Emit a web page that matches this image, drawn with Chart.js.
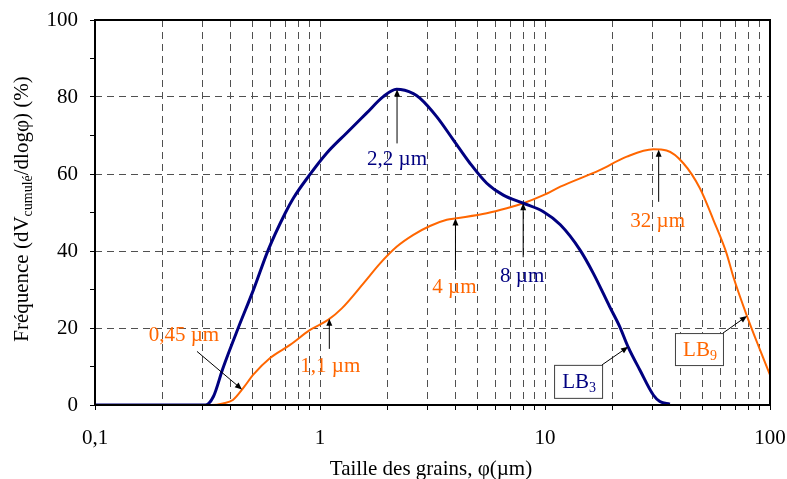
<!DOCTYPE html>
<html lang="fr">
<head>
    <meta charset="UTF-8">
    <title>Distribution granulométrique LB3 / LB9</title>
    <style>
        body {
            margin: 0;
            background-color: #fff;
            overflow: hidden;
        }
        #grainChart {
            display: block;
        }
    </style>
</head>
<body>
    <canvas id="grainChart" width="787" height="479"></canvas>

    <script src="https://cdn.jsdelivr.net/npm/chart.js"></script>
    <script>
        // particle size (µm) and frequency (%) for each sample
        const lb3Size = [0.1, 0.31, 0.336, 0.37, 0.433, 0.506, 0.589, 0.70, 0.761, 0.887, 1.07, 1.31, 1.61, 1.91, 2.19, 2.6, 2.78, 3.3, 3.92, 4.64, 5.51, 6.53, 8.01, 9.84, 11.7, 14.3, 16.4, 19.4, 21.5, 23.4, 26.4, 30.3, 32.4, 35.9];
        const lb3Freq = [0, 0, 2.2, 9.5, 20, 29.9, 40.3, 49.8, 53.7, 59.3, 65.4, 70.6, 75.8, 80.1, 82.0, 80.9, 79.7, 74.9, 68.8, 62.8, 57.6, 54.5, 52.4, 50.2, 46.8, 40.3, 34.2, 25.5, 20.3, 15.1, 9.1, 2.6, 0.9, 0.2];

        const lb9Size = [0.1, 0.33, 0.37, 0.41, 0.46, 0.504, 0.60, 0.736, 0.903, 1.086, 1.25, 1.56, 1.85, 2.19, 2.6, 3.08, 3.66, 4.05, 5.51, 6.76, 8.01, 9.84, 11.7, 17.5, 23.1, 30.3, 34.7, 41.2, 48.8, 56.0, 64.1, 68.7, 79, 90.3, 100];
        const lb9Freq = [0, 0, 0.4, 1.3, 4.7, 7.8, 12.2, 15.6, 19.5, 22.1, 25.1, 31.6, 36.8, 41.1, 44.2, 46.5, 48.1, 48.5, 49.8, 51.1, 52.4, 54.5, 56.7, 61, 64.5, 66.4, 66.1, 62.8, 56.3, 48.1, 39.4, 33.3, 23.1, 14.3, 7.8];

        // sizes pointed out on each curve (µm)
        const lb3Marks = [2.2, 8];
        const lb9Marks = [0.45, 1.1, 4, 32];

        const xTickLabels = ['0,1', '1', '10', '100'];
        const yTickLabels = [0, 20, 40, 60, 80, 100];

        const NAVY = '#000080';
        const ORANGE = '#ff6600';
        const FONT = '"Liberation Serif", "Times New Roman", serif';

        const series = [
            { size: lb3Size, freq: lb3Freq, color: NAVY, name: 'LB', sub: '3' },
            { size: lb9Size, freq: lb9Freq, color: ORANGE, name: 'LB', sub: '9' }
        ];

        // log ticks 0.1, 0.2 ... 0.9, 1, 2 ... 100
        const logTicks = [];
        [0.1, 1, 10].forEach(d => {
            for (let m = 1; m < 10; m++) logTicks.push(Number((m * d).toPrecision(3)));
        });
        logTicks.push(100);

        // frequency at a given size, read along the data (log x)
        function freqAt(s, size) {
            const xs = s.size, ys = s.freq;
            for (let i = 1; i < xs.length; i++) {
                if (size <= xs[i]) {
                    const t = (Math.log10(size) - Math.log10(xs[i - 1])) / (Math.log10(xs[i]) - Math.log10(xs[i - 1]));
                    return ys[i - 1] + t * (ys[i] - ys[i - 1]);
                }
            }
            return ys[ys.length - 1];
        }

        function arrow(ctx, x1, y1, x2, y2) {
            const ang = Math.atan2(y2 - y1, x2 - x1);
            ctx.strokeStyle = '#000';
            ctx.fillStyle = '#000';
            ctx.lineWidth = 1;
            ctx.beginPath();
            ctx.moveTo(x1, y1);
            ctx.lineTo(x2 - 5 * Math.cos(ang), y2 - 5 * Math.sin(ang));
            ctx.stroke();
            ctx.beginPath();
            ctx.moveTo(x2, y2);
            ctx.lineTo(x2 - 7 * Math.cos(ang) + 3 * Math.sin(ang), y2 - 7 * Math.sin(ang) - 3 * Math.cos(ang));
            ctx.lineTo(x2 - 7 * Math.cos(ang) - 3 * Math.sin(ang), y2 - 7 * Math.sin(ang) + 3 * Math.cos(ang));
            ctx.closePath();
            ctx.fill();
        }

        // where each arrow tail and label sits relative to the arrow tip (px)
        const markLayout = {
            '0-2.2': { tail: [0, 54], text: [0, 76] },
            '0-8': { tail: [0, 54], text: [-1, 79] },
            '1-0.45': { tail: [-45, -38], text: [-58, -48] },
            '1-1.1': { tail: [0, 30], text: [1, 53] },
            '1-4': { tail: [0, 52], text: [-1, 75] },
            '1-32': { tail: [0, 52], text: [-1, 77] }
        };
        // name boxes: size the arrow points at, box offset from tip, box size
        const boxLayout = [
            { s: 0, size: 23.4, off: [-74, 18], w: 48, h: 33 },
            { s: 1, size: 79, off: [-72, 17], w: 48, h: 32 }
        ];

        const notesPlugin = {
            id: 'grainNotes',
            afterDraw(chart) {
                const { ctx, chartArea: a, scales: { x, y } } = chart;
                ctx.save();

                // plot frame
                ctx.strokeStyle = '#000';
                ctx.lineWidth = 2;
                ctx.strokeRect(a.left, a.top, a.right - a.left, a.bottom - a.top);

                // arrows with size labels
                ctx.font = '21px ' + FONT;
                ctx.textAlign = 'center';
                ctx.textBaseline = 'alphabetic';
                [lb3Marks, lb9Marks].forEach((marks, si) => {
                    marks.forEach(size => {
                        const lay = markLayout[si + '-' + size];
                        const tx = x.getPixelForValue(size);
                        const ty = y.getPixelForValue(freqAt(series[si], size));
                        arrow(ctx, tx + lay.tail[0], ty + lay.tail[1], tx, ty);
                        ctx.fillStyle = series[si].color;
                        ctx.fillText(String(size).replace('.', ',') + ' µm', tx + lay.text[0], ty + lay.text[1]);
                    });
                });

                // sample name boxes
                boxLayout.forEach(b => {
                    const s = series[b.s];
                    const tx = x.getPixelForValue(b.size);
                    const ty = y.getPixelForValue(freqAt(s, b.size));
                    const bx = tx + b.off[0], by = ty + b.off[1];
                    ctx.fillStyle = '#fff';
                    ctx.fillRect(bx, by, b.w, b.h);
                    ctx.strokeStyle = '#404040';
                    ctx.lineWidth = 1;
                    ctx.strokeRect(bx + 0.5, by + 0.5, b.w, b.h);
                    arrow(ctx, bx + b.w, by, tx, ty);

                    ctx.textAlign = 'left';
                    ctx.font = '21px ' + FONT;
                    const w1 = ctx.measureText(s.name).width;
                    ctx.font = '14px ' + FONT;
                    const w2 = ctx.measureText(s.sub).width;
                    const left = bx + (b.w - w1 - w2) / 2 + 1;
                    ctx.fillStyle = s.color;
                    ctx.font = '21px ' + FONT;
                    ctx.fillText(s.name, left, by + 23);
                    ctx.font = '14px ' + FONT;
                    ctx.fillText(s.sub, left + w1, by + 27);
                });

                // x axis title
                ctx.fillStyle = '#000';
                ctx.textAlign = 'center';
                ctx.font = '21px ' + FONT;
                ctx.fillText('Taille des grains, φ(µm)', 431, 475);

                // y axis title, rotated, with subscript
                const parts = [
                    { t: 'Fréquence (dV', f: 21, dy: 0 },
                    { t: 'cumulé', f: 14, dy: 4 },
                    { t: '/dlogφ) (%)', f: 21, dy: 0 }
                ];
                let total = 0;
                parts.forEach(p => {
                    ctx.font = p.f + 'px ' + FONT;
                    p.w = ctx.measureText(p.t).width;
                    total += p.w;
                });
                ctx.translate(28, 209);
                ctx.rotate(-Math.PI / 2);
                ctx.textAlign = 'left';
                let cx = -total / 2;
                parts.forEach(p => {
                    ctx.font = p.f + 'px ' + FONT;
                    ctx.fillText(p.t, cx, p.dy);
                    cx += p.w;
                });

                ctx.restore();
            }
        };

        // keep the plot box fixed: no extra room reserved for edge labels
        function noEdgePadding(scale) {
            scale.paddingLeft = 0;
            scale.paddingRight = 0;
            scale.paddingTop = 0;
            scale.paddingBottom = 0;
        }

        const ctx = document.getElementById('grainChart').getContext('2d');
        const grainChart = new Chart(ctx, {
            type: 'line',
            data: {
                datasets: series.map(s => ({
                    label: s.name + s.sub,
                    data: s.size.map((v, i) => ({ x: v, y: s.freq[i] })),
                    borderColor: s.color,
                    borderWidth: s.sub === '3' ? 3 : 2,
                    pointRadius: 0,
                    fill: false,
                    cubicInterpolationMode: 'monotone'
                }))
            },
            options: {
                responsive: false,
                animation: false,
                layout: {
                    padding: { top: 20, right: 17, left: 0, bottom: 0 }
                },
                plugins: {
                    legend: { display: false },
                    tooltip: { enabled: false }
                },
                scales: {
                    x: {
                        type: 'logarithmic',
                        min: 0.1,
                        max: 100,
                        afterBuildTicks: scale => {
                            scale.ticks = logTicks.map(v => ({ value: v }));
                        },
                        afterFit: scale => {
                            scale.height = 74;
                            noEdgePadding(scale);
                        },
                        grid: {
                            color: '#505050',
                            lineWidth: 1,
                            tickColor: '#000',
                            tickLength: 5,
                            tickBorderDash: []
                        },
                        border: { display: false, dash: [7, 5] },
                        ticks: {
                            autoSkip: false,
                            maxRotation: 0,
                            padding: 16,
                            color: '#000',
                            font: { family: FONT, size: 21 },
                            callback: value => {
                                const k = [0.1, 1, 10, 100].indexOf(value);
                                return k >= 0 ? xTickLabels[k] : '';
                            }
                        }
                    },
                    y: {
                        min: 0,
                        max: 100,
                        afterFit: scale => {
                            scale.width = 95;
                            noEdgePadding(scale);
                        },
                        grid: {
                            color: c => (c.tick && c.tick.value % 20 === 0) ? '#505050' : 'rgba(0,0,0,0)',
                            lineWidth: 1,
                            tickColor: '#000',
                            tickLength: 5,
                            tickBorderDash: []
                        },
                        border: { display: false, dash: [7, 5] },
                        ticks: {
                            stepSize: 10,
                            padding: 12,
                            color: '#000',
                            font: { family: FONT, size: 21 },
                            callback: value => yTickLabels.includes(value) ? String(value) : ''
                        }
                    }
                }
            },
            plugins: [notesPlugin]
        });
    </script>
</body>
</html>
